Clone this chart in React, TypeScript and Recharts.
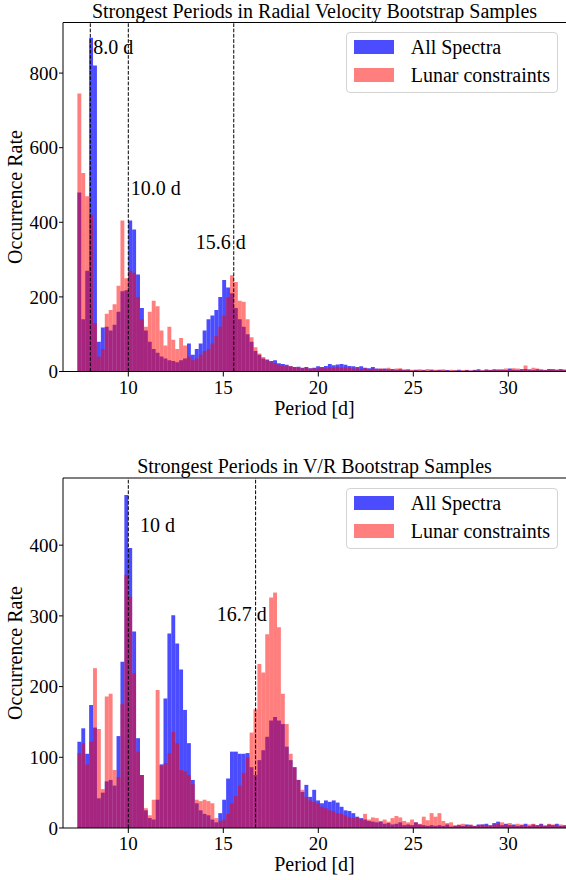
import React from 'react';
import { BarChart, Bar, XAxis, YAxis, ReferenceLine, ReferenceDot, Legend } from 'recharts';

const FONT = 'Liberation Serif, Times New Roman, Times, serif';

// Histogram bin centres (period, days)
const PERIOD_BINS = [
  7.423, 7.629, 7.835, 8.041, 8.247, 8.453, 8.659, 8.865, 9.071, 9.277,
  9.483, 9.689, 9.895, 10.101, 10.307, 10.513, 10.719, 10.925, 11.131, 11.337,
  11.543, 11.749, 11.955, 12.161, 12.367, 12.573, 12.779, 12.985, 13.191, 13.397,
  13.603, 13.809, 14.015, 14.221, 14.427, 14.633, 14.839, 15.045, 15.251, 15.457,
  15.663, 15.869, 16.075, 16.281, 16.487, 16.693, 16.899, 17.105, 17.311, 17.517,
  17.723, 17.929, 18.135, 18.341, 18.547, 18.753, 18.959, 19.165, 19.371, 19.577,
  19.783, 19.989, 20.195, 20.401, 20.607, 20.813, 21.019, 21.225, 21.431, 21.637,
  21.843, 22.049, 22.255, 22.461, 22.667, 22.873, 23.079, 23.285, 23.491, 23.697,
  23.903, 24.109, 24.315, 24.521, 24.727, 24.933, 25.139, 25.345, 25.551, 25.757,
  25.963, 26.169, 26.375, 26.581, 26.787, 26.993, 27.199, 27.405, 27.611, 27.817,
  28.023, 28.229, 28.435, 28.641, 28.847, 29.053, 29.259, 29.465, 29.671, 29.877,
  30.083, 30.289, 30.495, 30.701, 30.907, 31.113, 31.319, 31.525, 31.731, 31.937,
  32.143, 32.349, 32.555, 32.761, 32.967,
];

// Radial velocity panel
const RV_ALL_SPECTRA = [
  480, 140, 270, 895, 820, 80, 118, 120, 110, 125,
  160, 215, 218, 405, 381, 260, 170, 110, 80, 60,
  50, 40, 35, 30, 28, 25, 30, 35, 75, 45,
  60, 75, 110, 140, 150, 165, 200, 245, 225, 210,
  170, 140, 120, 100, 80, 55, 45, 35, 32, 28,
  30, 22, 20, 18, 14, 12, 13, 10, 12, 9,
  10, 14, 12, 15, 20, 17, 19, 20, 18, 15,
  14, 12, 14, 10, 9, 12, 8, 7, 8, 6,
  7, 5, 6, 4, 5, 3, 5, 3, 4, 2,
  4, 3, 5, 3, 4, 2, 3, 5, 2, 4,
  3, 4, 6, 3, 5, 4, 6, 4, 5, 4,
  8, 5, 4, 6, 7, 5, 4, 6, 5, 4,
  7, 6, 5, 6, 4,
];
const RV_LUNAR = [
  745, 532, 470, 420, 130, 40, 60, 155, 165, 180,
  230, 405, 250, 270, 265, 200, 140, 120, 160, 190,
  175, 110, 70, 120, 85, 60, 90, 70, 40, 30,
  35, 45, 55, 60, 75, 95, 120, 150, 200, 258,
  240, 190, 187, 140, 92, 65, 48, 39, 30, 25,
  22, 18, 16, 14, 15, 12, 10, 9, 11, 8,
  9, 8, 10, 9, 12, 11, 13, 10, 12, 10,
  8, 9, 7, 9, 6, 8, 5, 9, 7, 10,
  6, 8, 9, 6, 7, 5, 4, 6, 5, 7,
  6, 5, 4, 6, 3, 5, 4, 3, 4, 5,
  3, 5, 3, 4, 6, 5, 4, 7, 6, 8,
  6, 9, 8, 7, 16, 7, 10, 8, 6, 5,
  4, 6, 5, 7, 6,
];

// V/R panel
const VR_ALL_SPECTRA = [
  122, 141, 105, 174, 142, 42, 50, 66, 68, 60,
  130, 235, 471, 396, 278, 127, 75, 25, 14, 12,
  40, 90, 183, 275, 301, 261, 224, 167, 120, 68,
  35, 25, 20, 18, 12, 8, 21, 40, 70, 108,
  108, 105, 105, 106, 86, 75, 96, 110, 129, 152,
  157, 152, 147, 115, 96, 86, 68, 51, 61, 44,
  54, 39, 35, 39, 37, 39, 36, 30, 25, 24,
  21, 16, 14, 12, 10, 9, 8, 9, 6, 7,
  5, 6, 8, 4, 5, 4, 8, 5, 4, 3,
  4, 3, 4, 3, 5, 2, 3, 4, 3, 5,
  4, 3, 5, 5, 6, 4, 7, 9, 4, 6,
  4, 5, 3, 4, 6, 3, 5, 4, 6, 3,
  5, 4, 6, 3, 4,
];
const VR_LUNAR = [
  106, 120, 90, 122, 226, 140, 55, 186, 190, 82,
  72, 175, 358, 327, 219, 108, 75, 28, 18, 40,
  195, 88, 92, 106, 136, 120, 82, 80, 75, 62,
  40, 38, 40, 38, 35, 14, 10, 12, 20, 35,
  45, 60, 78, 100, 135, 168, 232, 220, 274, 326,
  333, 284, 190, 147, 105, 86, 68, 54, 44, 39,
  37, 35, 30, 28, 25, 24, 21, 20, 18, 15,
  14, 15, 13, 20, 12, 15, 14, 10, 12, 9,
  14, 17, 15, 10, 8, 12, 8, 6, 16, 11,
  21, 16, 21, 10, 7, 8, 4, 5, 6, 4,
  5, 3, 4, 5, 4, 3, 5, 6, 8, 5,
  7, 4, 6, 5, 4, 5, 6, 4, 5, 4,
  6, 5, 4, 5, 3,
];

const X_DOMAIN: [number, number] = [6.563, 33.037];
const X_TICKS = [10, 15, 20, 25, 30];
const RV_Y_TICKS = [0, 200, 400, 600, 800];
const VR_Y_TICKS = [0, 100, 200, 300, 400];
const RV_Y_MAX = 935.6;
const VR_Y_MAX = 495;

const RV_MARKERS = [8.0, 10.0, 15.55];
const VR_MARKERS = [10.0, 16.7];
const RV_NOTES = [
  { x: 8.16, y: 871, text: '8.0 d' },
  { x: 10.13, y: 492, text: '10.0 d' },
  { x: 13.55, y: 348, text: '15.6 d' },
];
const VR_NOTES = [
  { x: 10.62, y: 428, text: '10 d' },
  { x: 14.65, y: 303, text: '16.7 d' },
];

const SERIES = [
  { key: 'all', name: 'All Spectra', color: '#0000ff', opacity: 0.7 },
  { key: 'lunar', name: 'Lunar constraints', color: '#ff0000', opacity: 0.5 },
];

const BAR_SIZE = 3.9;
const TEXT_STYLE = { fontFamily: FONT };

const xLabel = (props: any) => {
  const vb = props && props.viewBox;
  if (!vb) return null;
  return (
    <text
      x={vb.x + vb.width / 2}
      y={vb.y + 43}
      textAnchor="middle"
      fontFamily={FONT}
      style={TEXT_STYLE}
      fontSize={20}
      fill="#000"
    >
      Period [d]
    </text>
  );
};

const yLabel = (props: any) => {
  const vb = props && props.viewBox;
  if (!vb) return null;
  const cx = 21.5;
  const cy = vb.y + vb.height / 2;
  return (
    <text
      x={cx}
      y={cy}
      transform={`rotate(-90 ${cx} ${cy})`}
      textAnchor="middle"
      fontFamily={FONT}
      style={TEXT_STYLE}
      fontSize={20}
      fill="#000"
    >
      Occurrence Rate
    </text>
  );
};

const LegendBox = () => (
  <div
    style={{
      position: 'relative',
      width: 212,
      height: 61,
      border: '1px solid #d4d4d4',
      borderRadius: 4,
      background: 'rgba(255,255,255,0.8)',
      boxSizing: 'border-box',
      fontFamily: FONT,
      fontSize: 20,
      color: '#000',
    }}
  >
    {SERIES.map((s, i) => (
      <React.Fragment key={s.key}>
        <div
          style={{
            position: 'absolute',
            left: 7,
            top: 7.3 + i * 28,
            width: 40,
            height: 14,
            background: s.color,
            opacity: s.opacity,
          }}
        />
        <div
          style={{
            position: 'absolute',
            left: 63.7,
            top: 4.3 + i * 28,
            lineHeight: '20px',
            whiteSpace: 'nowrap',
          }}
        >
          {s.name}
        </div>
      </React.Fragment>
    ))}
  </div>
);

type PanelProps = {
  title: string;
  top: number;
  all: number[];
  lunar: number[];
  yMax: number;
  yTicks: number[];
  markers: number[];
  notes: { x: number; y: number; text: string }[];
  plotTop: number;
  xAxisHeight: number;
  titleTop: number;
  legendTop: number;
};

function Panel(p: PanelProps) {
  const data = PERIOD_BINS.map((period, i) => ({ period, all: p.all[i], lunar: p.lunar[i] }));
  const tickStyle = { fill: '#000', fontSize: 19, fontFamily: FONT, style: TEXT_STYLE };
  return (
    <div style={{ position: 'absolute', left: 0, top: p.top, width: 566, height: 440, fontFamily: FONT }}>
      <div
        style={{
          position: 'absolute',
          left: 63,
          width: 503,
          top: p.titleTop,
          textAlign: 'center',
          fontFamily: FONT,
          fontSize: 20,
          lineHeight: '20px',
          whiteSpace: 'nowrap',
          color: '#000',
        }}
      >
        {p.title}
      </div>
      <BarChart
        width={566}
        height={440}
        data={data}
        margin={{ top: p.plotTop, right: 0, bottom: 0, left: 0 }}
        barGap={-BAR_SIZE}
        barCategoryGap={0}
        style={TEXT_STYLE}
      >
        <XAxis
          xAxisId="all"
          type="number"
          dataKey="period"
          domain={X_DOMAIN}
          allowDataOverflow
          ticks={X_TICKS}
          interval={0}
          height={p.xAxisHeight}
          tickSize={5}
          tickMargin={4}
          tick={tickStyle}
          tickLine={{ stroke: '#000' }}
          axisLine={{ stroke: '#000' }}
          label={{ content: xLabel }}
        />
        <XAxis xAxisId="lunar" type="number" dataKey="period" domain={X_DOMAIN} allowDataOverflow hide />
        <YAxis
          type="number"
          domain={[0, p.yMax]}
          allowDataOverflow
          ticks={p.yTicks}
          interval={0}
          width={63}
          tickSize={4}
          tickMargin={1}
          tick={tickStyle}
          tickLine={{ stroke: '#000' }}
          axisLine={{ stroke: '#000' }}
          label={{ content: yLabel }}
        />
        <Bar
          xAxisId="all"
          dataKey="all"
          name={SERIES[0].name}
          fill={SERIES[0].color}
          fillOpacity={SERIES[0].opacity}
          barSize={BAR_SIZE}
          isAnimationActive={false}
        />
        <Bar
          xAxisId="lunar"
          dataKey="lunar"
          name={SERIES[1].name}
          fill={SERIES[1].color}
          fillOpacity={SERIES[1].opacity}
          barSize={BAR_SIZE}
          isAnimationActive={false}
        />
        <ReferenceLine xAxisId="all" y={p.yMax} stroke="#000" strokeWidth={1} />
        {p.markers.map((m) => (
          <ReferenceLine key={m} xAxisId="all" x={m} stroke="#000" strokeWidth={1} strokeDasharray="3.7 1.6" />
        ))}
        {p.notes.map((n) => (
          <ReferenceDot
            key={n.text}
            xAxisId="all"
            x={n.x}
            y={n.y}
            r={0}
            fill="none"
            stroke="none"
            ifOverflow="visible"
            label={{
              value: n.text,
              position: 'right',
              offset: 0,
              fill: '#000',
              fontSize: 20,
              fontFamily: FONT,
              style: TEXT_STYLE,
            }}
          />
        ))}
        <Legend
          layout="vertical"
          align="center"
          verticalAlign="middle"
          wrapperStyle={{ left: 346, top: p.legendTop, width: 212, height: 61 }}
          content={() => <LegendBox />}
        />
      </BarChart>
    </div>
  );
}

export default function App() {
  return (
    <div
      style={{
        position: 'absolute',
        left: 0,
        top: 0,
        width: 566,
        height: 880,
        overflow: 'hidden',
        background: '#fff',
        fontFamily: FONT,
      }}
    >
      <Panel
        title="Strongest Periods in Radial Velocity Bootstrap Samples"
        top={0}
        all={RV_ALL_SPECTRA}
        lunar={RV_LUNAR}
        yMax={RV_Y_MAX}
        yTicks={RV_Y_TICKS}
        markers={RV_MARKERS}
        notes={RV_NOTES}
        plotTop={22.5}
        xAxisHeight={68.5}
        titleTop={0.5}
        legendTop={32}
      />
      <Panel
        title="Strongest Periods in V/R Bootstrap Samples"
        top={440}
        all={VR_ALL_SPECTRA}
        lunar={VR_LUNAR}
        yMax={VR_Y_MAX}
        yTicks={VR_Y_TICKS}
        markers={VR_MARKERS}
        notes={VR_NOTES}
        plotTop={38}
        xAxisHeight={52}
        titleTop={15.5}
        legendTop={48}
      />
    </div>
  );
}
